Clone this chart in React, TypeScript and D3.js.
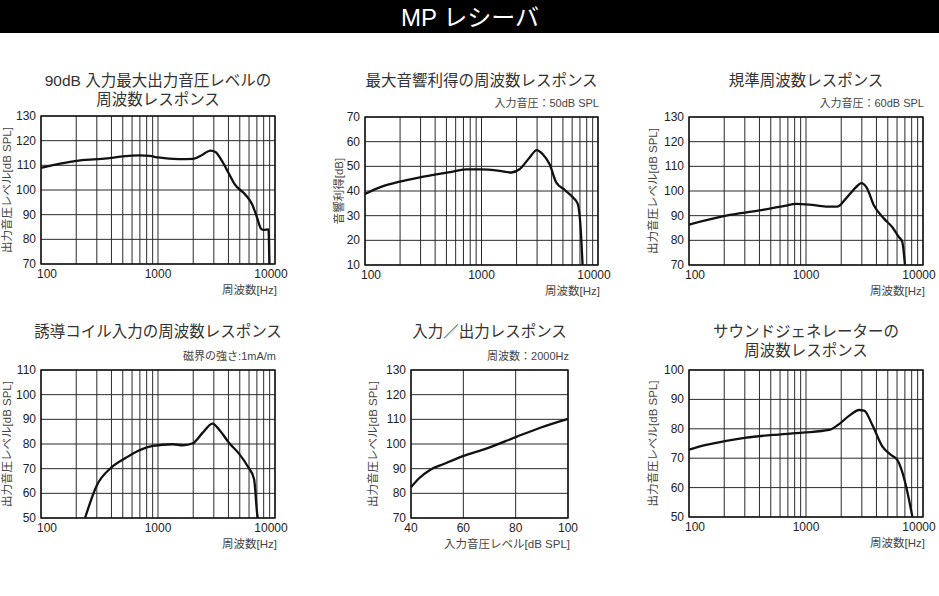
import React from "react";
import * as d3 from "d3";

const headerTitle = "MP レシーバ";

// Panel 1: 90dB OSPL frequency response
const p1Freq = [100, 150, 200, 300, 400, 500, 700, 850, 1000, 1500, 2000, 2400, 2800, 3100, 3500, 4000, 4500, 5600, 6400, 7000, 7600, 8000, 8800, 8950];
const p1Val = [109, 110.8, 111.8, 112.5, 113, 113.6, 114, 113.8, 113.2, 112.5, 112.6, 114.3, 116, 115.4, 112, 107, 102.5, 98, 94, 89, 84.3, 83.8, 84, 70];

// Panel 2: max acoustic gain
const p2Freq = [100, 139, 199, 296, 397, 570, 742, 965, 1430, 1800, 2120, 2580, 2980, 3360, 3835, 4380, 5160, 6070, 6700, 7130, 7370];
const p2Val = [38.8, 41.8, 43.8, 45.5, 46.6, 47.9, 48.8, 48.8, 48.2, 47.5, 48.8, 53.5, 56.6, 54.9, 50.9, 43.5, 40.5, 37.5, 34.8, 23.4, 10];

// Panel 3: reference frequency response
const p3Freq = [100, 208, 400, 674, 820, 1066, 1480, 1860, 2180, 2667, 2975, 3290, 3810, 4640, 5450, 6200, 6650, 7010];
const p3Val = [86.4, 90, 92.1, 94.1, 94.8, 94.5, 93.7, 93.7, 96.8, 101.5, 103.2, 101.5, 94.1, 88.8, 85.4, 81.4, 79.4, 70];

// Panel 4: induction coil input
const p4Freq = [238, 299, 400, 536, 698, 903, 1335, 1630, 1985, 2410, 2920, 3325, 4040, 4920, 5800, 6620, 7070, 7130];
const p4Val = [50, 63.1, 70.5, 74.5, 77.5, 79.2, 79.9, 79.5, 80.3, 84.6, 88.3, 85.9, 80.5, 76.1, 71.2, 65.8, 51, 50];

// Panel 5: input/output response
const p5Input = [40, 43, 47.4, 52.5, 60.1, 69, 80.5, 89.4, 100];
const p5Val = [82.5, 86, 89.6, 91.9, 95.2, 98.2, 103, 106.6, 110.2];

// Panel 6: sound generator
const p6Freq = [100, 140, 208, 308, 518, 935, 1580, 1920, 2330, 2850, 3140, 3690, 4490, 5280, 6010, 7070, 8100];
const p6Val = [72.9, 74.5, 75.9, 77, 77.9, 78.7, 79.6, 81.6, 84.4, 86.4, 86.2, 81.3, 74, 71.2, 69.5, 61.5, 50.2];

const freqTicks = [100, 1000, 10000];
const freqGrid = [100, 200, 300, 400, 500, 600, 700, 800, 900, 1000, 2000, 3000, 4000, 5000, 6000, 7000, 8000, 9000, 10000];
const ioTicks = [40, 60, 80, 100];

const FONT = "'Liberation Sans', 'Noto Sans CJK JP', sans-serif";

type PanelDef = {
  box: [number, number, number, number]; // left, top, right, bottom
  log: boolean;
  xDomain: [number, number];
  yDomain: [number, number];
  xs: number[];
  ys: number[];
  xTicks: number[];
  xGrid: number[];
  title: string[];
  titleY: number;
  sub?: string;
  subY?: number;
  yLabel: string;
  yLabelX: number;
  xLabel: string;
};

const panels: PanelDef[] = [
  { box: [41, 116, 275, 264], log: true, xDomain: [100, 10000], yDomain: [70, 130], xs: p1Freq, ys: p1Val, xTicks: freqTicks, xGrid: freqGrid, title: ["90dB 入力最大出力音圧レベルの", "周波数レスポンス"], titleY: 86, yLabel: "出力音圧レベル[dB SPL]", yLabelX: 7, xLabel: "周波数[Hz]" },
  { box: [365, 117, 598, 265], log: true, xDomain: [100, 10000], yDomain: [10, 70], xs: p2Freq, ys: p2Val, xTicks: freqTicks, xGrid: freqGrid, title: ["最大音響利得の周波数レスポンス"], titleY: 86, sub: "入力音圧：50dB SPL", subY: 107, yLabel: "音響利得[dB]", yLabelX: 339, xLabel: "周波数[Hz]" },
  { box: [689, 117, 923, 265], log: true, xDomain: [100, 10000], yDomain: [70, 130], xs: p3Freq, ys: p3Val, xTicks: freqTicks, xGrid: freqGrid, title: ["規準周波数レスポンス"], titleY: 86, sub: "入力音圧：60dB SPL", subY: 107, yLabel: "出力音圧レベル[dB SPL]", yLabelX: 653, xLabel: "周波数[Hz]" },
  { box: [41, 370, 275, 518], log: true, xDomain: [100, 10000], yDomain: [50, 110], xs: p4Freq, ys: p4Val, xTicks: freqTicks, xGrid: freqGrid, title: ["誘導コイル入力の周波数レスポンス"], titleY: 337, sub: "磁界の強さ:1mA/m", subY: 360, yLabel: "出力音圧レベル[dB SPL]", yLabelX: 7, xLabel: "周波数[Hz]" },
  { box: [411, 370, 568, 518], log: false, xDomain: [40, 100], yDomain: [70, 130], xs: p5Input, ys: p5Val, xTicks: ioTicks, xGrid: ioTicks, title: ["入力／出力レスポンス"], titleY: 337, sub: "周波数：2000Hz", subY: 360, yLabel: "出力音圧レベル[dB SPL]", yLabelX: 373, xLabel: "入力音圧レベル[dB SPL]" },
  { box: [689, 370, 923, 517], log: true, xDomain: [100, 10000], yDomain: [50, 100], xs: p6Freq, ys: p6Val, xTicks: freqTicks, xGrid: freqGrid, title: ["サウンドジェネレーターの", "周波数レスポンス"], titleY: 337, yLabel: "出力音圧レベル[dB SPL]", yLabelX: 653, xLabel: "周波数[Hz]" },
];

function Panel({ p }: { p: PanelDef }) {
  const [l, t, r, b] = p.box;
  const x = p.log
    ? d3.scaleLog().domain(p.xDomain).range([l, r])
    : d3.scaleLinear().domain(p.xDomain).range([l, r]);
  const y = d3.scaleLinear().domain(p.yDomain).range([b, t]);
  const yTicks = d3.range(p.yDomain[0], p.yDomain[1] + 0.001, 10);
  const pts: [number, number][] = p.xs.map((v, i) => [v, p.ys[i]]);
  const line = d3
    .line<[number, number]>()
    .x((d) => x(d[0]))
    .y((d) => y(d[1]))
    .curve(d3.curveMonotoneX);
  const cx = (l + r) / 2;
  const cy = (t + b) / 2;
  const tickShift = (i: number, n: number) => {
    if (!p.log) return 0;
    if (i === 0) return 6;
    if (i === n - 1) return -4;
    return 0;
  };
  return (
    <g>
      {p.title.map((s, i) => (
        <text key={i} x={cx} y={p.titleY + i * 19} textAnchor="middle" fontSize={15.5} fill="#333" fontFamily={FONT}>
          {s}
        </text>
      ))}
      {p.sub && (
        <text x={r + 1} y={p.subY} textAnchor="end" fontSize={11} fill="#444" fontFamily={FONT}>
          {p.sub}
        </text>
      )}
      {p.xGrid.map((g) => (
        <line key={"vx" + g} x1={x(g)} x2={x(g)} y1={t} y2={b} stroke="#2a2a2a" strokeWidth={1} />
      ))}
      {yTicks.map((g) => (
        <line key={"hy" + g} x1={l} x2={r} y1={y(g)} y2={y(g)} stroke="#2a2a2a" strokeWidth={1} />
      ))}
      <rect x={l} y={t} width={r - l} height={b - t} fill="none" stroke="#111" strokeWidth={1.4} />
      <path d={line(pts) || ""} fill="none" stroke="#111" strokeWidth={2.3} strokeLinejoin="round" />
      {yTicks.map((g) => (
        <text key={"yt" + g} x={l - 5} y={y(g) + 4} textAnchor="end" fontSize={12} fill="#222" fontFamily={FONT}>
          {g}
        </text>
      ))}
      {p.xTicks.map((g, i) => (
        <text key={"xt" + g} x={x(g) + tickShift(i, p.xTicks.length)} y={b + 14} textAnchor="middle" fontSize={12} fill="#222" fontFamily={FONT}>
          {g}
        </text>
      ))}
      <text x={r + 2} y={b + 30} textAnchor="end" fontSize={11.5} fill="#444" fontFamily={FONT}>
        {p.xLabel}
      </text>
      <text
        transform={`translate(${p.yLabelX},${cy}) rotate(-90)`}
        x={0}
        y={4}
        textAnchor="middle"
        fontSize={11.5}
        fill="#444"
        fontFamily={FONT}
      >
        {p.yLabel}
      </text>
    </g>
  );
}

export default function App() {
  return (
    <svg
      width={939}
      height={596}
      viewBox="0 0 939 596"
      style={{ position: "absolute", left: 0, top: 0, background: "#fff" }}
    >
      <rect x={0} y={0} width={939} height={33} fill="#000" />
      <text x={470} y={26} textAnchor="middle" fontSize={24} fill="#fff" fontFamily={FONT}>
        {headerTitle}
      </text>
      {panels.map((p, i) => (
        <Panel key={i} p={p} />
      ))}
    </svg>
  );
}
